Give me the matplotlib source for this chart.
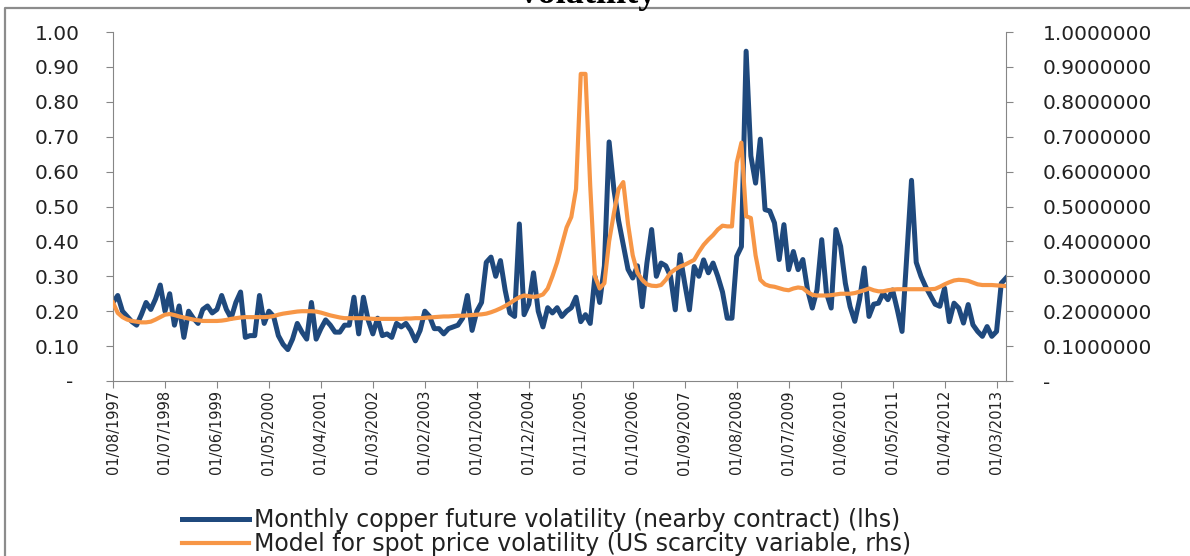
"""Copper futures volatility vs. scarcity model (Excel-style dual axis chart)."""

import matplotlib

matplotlib.use("Agg")
import matplotlib.pyplot as plt
import numpy as np
import pandas as pd
from matplotlib.lines import Line2D

START = "1997-08-01"

# monthly copper future volatility, nearby contract (lhs)
copper_vol = [
    0.225, 0.245, 0.20, 0.185, 0.17, 0.16, 0.19, 0.225, 0.205, 0.235,
    0.275, 0.20, 0.25, 0.16, 0.215, 0.125, 0.20, 0.18, 0.165, 0.205,
    0.215, 0.195, 0.205, 0.245, 0.205, 0.18, 0.225, 0.255, 0.125, 0.13,
    0.13, 0.245, 0.165, 0.20, 0.185, 0.13, 0.105, 0.09, 0.12, 0.165,
    0.14, 0.12, 0.225, 0.12, 0.15, 0.175, 0.16, 0.14, 0.14, 0.16,
    0.16, 0.24, 0.135, 0.24, 0.175, 0.135, 0.18, 0.13, 0.135, 0.125,
    0.165, 0.155, 0.165, 0.145, 0.115, 0.145, 0.20, 0.185, 0.15, 0.15,
    0.135, 0.15, 0.155, 0.16, 0.18, 0.245, 0.145, 0.20, 0.225, 0.34,
    0.355, 0.30, 0.345, 0.26, 0.195, 0.185, 0.45, 0.19, 0.22, 0.31,
    0.20, 0.155, 0.21, 0.195, 0.21, 0.185, 0.20, 0.21, 0.24, 0.17,
    0.19, 0.165, 0.30, 0.225, 0.33, 0.685, 0.55, 0.46, 0.39, 0.32,
    0.295, 0.33, 0.213, 0.338, 0.434, 0.30, 0.338, 0.33, 0.30, 0.204,
    0.362, 0.28, 0.204, 0.328, 0.30, 0.347, 0.31, 0.338, 0.30, 0.255,
    0.18, 0.18, 0.357, 0.385, 0.945, 0.645, 0.567, 0.693, 0.491, 0.487,
    0.453, 0.348, 0.448, 0.319, 0.371, 0.319, 0.348, 0.261, 0.209, 0.261,
    0.405, 0.252, 0.209, 0.434, 0.386, 0.28, 0.213, 0.171, 0.233, 0.324,
    0.185, 0.22, 0.223, 0.252, 0.233, 0.261, 0.204, 0.142, 0.36, 0.575,
    0.34, 0.30, 0.27, 0.245, 0.22, 0.214, 0.266, 0.17, 0.223, 0.209,
    0.166, 0.219, 0.161, 0.142, 0.128, 0.156, 0.128, 0.142, 0.28, 0.295,
]

# model for spot price volatility, US scarcity variable (rhs)
model_vol = [
    0.225, 0.195, 0.183, 0.176, 0.172, 0.170, 0.168, 0.168, 0.170, 0.176,
    0.183, 0.190, 0.192, 0.189, 0.185, 0.182, 0.179, 0.176, 0.174, 0.172,
    0.172, 0.172, 0.172, 0.173, 0.175, 0.178, 0.180, 0.182, 0.183, 0.183,
    0.183, 0.183, 0.183, 0.184, 0.186, 0.190, 0.193, 0.195, 0.197, 0.199,
    0.200, 0.200, 0.200, 0.199, 0.196, 0.192, 0.188, 0.185, 0.182, 0.180,
    0.180, 0.180, 0.180, 0.180, 0.179, 0.178, 0.178, 0.178, 0.178, 0.178,
    0.178, 0.178, 0.179, 0.179, 0.180, 0.180, 0.181, 0.182, 0.183, 0.184,
    0.185, 0.185, 0.186, 0.187, 0.187, 0.188, 0.189, 0.190, 0.191, 0.193,
    0.197, 0.202, 0.208, 0.215, 0.223, 0.232, 0.240, 0.245, 0.243, 0.241,
    0.243, 0.248, 0.265, 0.30, 0.34, 0.39, 0.44, 0.47, 0.55, 0.88,
    0.88, 0.56, 0.30, 0.265, 0.28, 0.40, 0.48, 0.55, 0.57, 0.45,
    0.36, 0.31, 0.29, 0.277, 0.273, 0.272, 0.275, 0.29, 0.31, 0.32,
    0.328, 0.333, 0.34, 0.347, 0.37, 0.39, 0.405, 0.418, 0.434, 0.445,
    0.443, 0.443, 0.625, 0.683, 0.472, 0.467, 0.36, 0.29, 0.277, 0.272,
    0.27, 0.266, 0.262, 0.26, 0.265, 0.268, 0.266, 0.255, 0.247, 0.245,
    0.245, 0.245, 0.246, 0.248, 0.25, 0.25, 0.25, 0.252, 0.256, 0.26,
    0.265, 0.26, 0.257, 0.257, 0.26, 0.262, 0.263, 0.263, 0.263, 0.263,
    0.263, 0.263, 0.263, 0.263, 0.264, 0.27, 0.277, 0.283, 0.288, 0.29,
    0.289, 0.287, 0.282, 0.277, 0.275, 0.275, 0.275, 0.274, 0.273, 0.272,
]

tick_labels = [
    "01/08/1997", "01/07/1998", "01/06/1999", "01/05/2000", "01/04/2001",
    "01/03/2002", "01/02/2003", "01/01/2004", "01/12/2004", "01/11/2005",
    "01/10/2006", "01/09/2007", "01/08/2008", "01/07/2009", "01/06/2010",
    "01/05/2011", "01/04/2012", "01/03/2013",
]

series_labels = [
    "Monthly copper future volatility (nearby contract) (lhs)",
    "Model for spot price volatility (US scarcity variable, rhs)",
]

BLUE = "#1F497D"
ORANGE = "#F79646"
AXIS_GREY = "#868686"
TEXT = "#222222"

W, H = 1190, 556
months = pd.date_range(START, periods=len(copper_vol), freq="MS")
x = np.arange(len(months))
tick_pos = months.get_indexer(pd.to_datetime(tick_labels, dayfirst=True))

fig = plt.figure(figsize=(W / 100, H / 100), dpi=100)
ax = fig.add_axes([113 / W, 175 / H, (1006 - 113) / W, (381 - 32) / H])
ax2 = ax.twinx()

ax.plot(x, copper_vol, color=BLUE, lw=3.6, solid_joinstyle="round")
ax2.plot(x, model_vol, color=ORANGE, lw=3.0, solid_joinstyle="round")

ax.set_xlim(x[0], x[-1])
for a in (ax, ax2):
    a.set_ylim(0, 1)
    a.set_yticks(np.arange(0, 1.01, 0.1))
    for side in ("top", "left", "right", "bottom"):
        a.spines[side].set_color(AXIS_GREY)
ax.set_yticklabels(["- "] + [f"{v:.2f}" for v in np.arange(0.1, 1.01, 0.1)])
ax2.set_yticklabels(["-"] + [f"{v:.7f}" for v in np.arange(0.1, 1.01, 0.1)])

ax.spines["top"].set_visible(False)
ax.spines["right"].set_visible(False)
for side in ("top", "left", "bottom"):
    ax2.spines[side].set_visible(False)

ax.set_xticks(tick_pos)
ax.set_xticklabels(tick_labels)
ax.tick_params(axis="x", direction="out", length=5, color=AXIS_GREY,
               labelrotation=90, labelsize=10.5, pad=1.5, labelcolor=TEXT)
ax.tick_params(axis="y", direction="out", length=5, color=AXIS_GREY,
               labelsize=14.5, pad=19, labelcolor=TEXT)
ax2.tick_params(axis="y", direction="out", length=5, color=AXIS_GREY,
                labelsize=14.5, pad=21.5, labelcolor=TEXT)

handles = [Line2D([], [], color=BLUE, lw=3.6), Line2D([], [], color=ORANGE, lw=3.0)]
fig.legend(handles, series_labels, loc="upper left",
           bbox_to_anchor=(182 / W, 1 - 508 / H), frameon=False, fontsize=17,
           handlelength=2.85, handletextpad=0.2, labelspacing=0.0,
           borderaxespad=0, borderpad=0, labelcolor=TEXT)

# chart-area frame and the title that the screenshot cut off
fig.add_artist(Line2D([5 / W, 5 / W, 1], [0, 1 - 8 / H, 1 - 8 / H],
                      transform=fig.transFigure, color="#8c8c8c", lw=1.6))
fig.text(586 / W, 1 - 3 / H, "Volatility", ha="center", va="baseline",
         fontsize=26, family="Liberation Serif", fontweight="bold", color="black")

fig.savefig("out.png", dpi=100)
